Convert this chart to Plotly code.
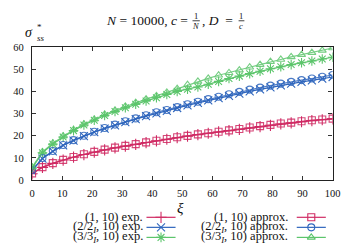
import plotly.graph_objects as go

# ---- data ----
xi = [0, 3.45, 6.90, 10.34, 13.79, 17.24, 20.69, 24.14, 27.59, 31.03,
      34.48, 37.93, 41.38, 44.83, 48.28, 51.72, 55.17, 58.62, 62.07, 65.52,
      68.97, 72.41, 75.86, 79.31, 82.76, 86.21, 89.66, 93.10, 96.55, 100]

red_exp = [2.8, 5.7, 7.5, 9.0, 10.3, 11.5, 12.6, 13.6, 14.5, 15.3,
           16.1, 16.9, 17.7, 18.4, 19.1, 19.8, 20.5, 21.1, 21.7, 22.3,
           22.9, 23.5, 24.1, 24.7, 25.3, 25.8, 26.3, 26.8, 27.2, 27.6]
red_approx = [3.0, 5.8, 7.6, 9.1, 10.4, 11.6, 12.7, 13.7, 14.6, 15.4,
              16.2, 17.0, 17.7, 18.5, 19.3, 19.9, 20.6, 21.1, 21.8, 22.4,
              23.0, 23.7, 24.3, 24.9, 25.5, 25.9, 26.5, 27.0, 27.3, 27.7]
blue_exp = [4.2, 9.7, 12.9, 15.6, 17.8, 19.8, 21.6, 23.2, 24.7, 26.1,
            27.5, 28.8, 30.1, 31.2, 32.5, 33.7, 34.8, 35.9, 37.0, 38.0,
            39.0, 40.0, 40.9, 41.8, 42.7, 43.5, 44.3, 45.0, 45.8, 46.5]
blue_approx = [4.5, 9.9, 13.1, 15.8, 18.0, 20.0, 21.8, 23.5, 25.0, 26.5,
               27.8, 29.2, 30.6, 31.6, 32.9, 34.2, 35.3, 36.5, 37.6, 38.7,
               39.8, 40.8, 41.7, 42.6, 43.5, 44.3, 45.1, 45.8, 46.6, 47.4]
green_exp = [5.4, 12.3, 16.2, 19.4, 22.3, 24.8, 27.0, 29.1, 30.9, 32.6,
             34.2, 35.7, 37.1, 38.6, 40.0, 41.0, 42.0, 43.2, 44.5, 45.8,
             46.9, 48.0, 49.1, 50.2, 51.1, 52.1, 52.9, 53.7, 54.6, 55.4]
green_approx = [5.8, 12.7, 16.6, 19.8, 22.7, 25.2, 27.4, 29.6, 31.4, 33.2,
                34.9, 36.5, 38.0, 39.6, 41.2, 43.0, 44.5, 45.9, 47.3, 48.4,
                49.6, 50.9, 52.1, 53.4, 54.4, 55.6, 56.6, 57.5, 58.5, 59.6]

x_ticks = [0, 10, 20, 30, 40, 50, 60, 70, 80, 90, 100]
y_ticks = [0, 10, 20, 30, 40, 50, 60]

labels_exp = ["(1, 10) exp.", "(2/2<sub><i>I</i></sub>, 10) exp.", "(3/3<sub><i>I</i></sub>, 10) exp."]
labels_approx = ["(1, 10) approx.", "(2/2<sub><i>I</i></sub>, 10) approx.", "(3/3<sub><i>I</i></sub>, 10) approx."]

# ---- styling ----
W, H = 360, 252
PL, PR, PT, PB = 30, 340, 44, 183   # plot area in pixels
RED, BLUE, GREEN = "#d02c64", "#2f66bd", "#5cc56c"
FONT = "Liberation Serif"
TXT = "#111"

colors = [RED, BLUE, GREEN]
exp_data = [red_exp, blue_exp, green_exp]
approx_data = [red_approx, blue_approx, green_approx]
exp_sym = ["cross-thin", "x-thin", "asterisk"]
app_sym = ["square-open", "circle-open", "triangle-up-open"]

fig = go.Figure()

for c, ys, sym in zip(colors, exp_data, exp_sym):
    fig.add_trace(go.Scatter(x=xi, y=ys, mode="lines+markers",
                             line=dict(color=c, width=1.2),
                             marker=dict(symbol=sym, size=8, color=c,
                                         line=dict(color=c, width=1.1)),
                             showlegend=False))
for c, ys, sym in zip(colors, approx_data, app_sym):
    fig.add_trace(go.Scatter(x=xi, y=ys, mode="lines+markers",
                             line=dict(color=c, width=1.2),
                             marker=dict(symbol=sym, size=7, color=c,
                                         line=dict(color=c, width=1.1)),
                             opacity=0.85,
                             showlegend=False))


def ann(x, y, text, size, xanchor="center"):
    fig.add_annotation(x=x, y=y, xref="x2", yref="y2", text=text, showarrow=False,
                       xanchor=xanchor, yanchor="middle",
                       font=dict(family=FONT, size=size, color=TXT))


# ---- manual legend on a pixel overlay axis ----
rows_y = [222, 232.5, 243]
for i in range(3):
    y = rows_y[i]
    fig.add_shape(type="line", xref="x2", yref="y2", x0=148, x1=178, y0=y, y1=y,
                  line=dict(color=colors[i], width=1.2))
    fig.add_trace(go.Scatter(x=[163], y=[y], xaxis="x2", yaxis="y2", mode="markers",
                             marker=dict(symbol=exp_sym[i], size=8, color=colors[i],
                                         line=dict(color=colors[i], width=1.1)),
                             cliponaxis=False, showlegend=False, hoverinfo="skip"))
    ann(146, y, labels_exp[i], 12.5, "right")
    fig.add_shape(type="line", xref="x2", yref="y2", x0=303, x1=333, y0=y, y1=y,
                  line=dict(color=colors[i], width=1.2))
    fig.add_trace(go.Scatter(x=[318], y=[y], xaxis="x2", yaxis="y2", mode="markers",
                             marker=dict(symbol=app_sym[i], size=7, color=colors[i],
                                         line=dict(color=colors[i], width=1.1)),
                             cliponaxis=False, showlegend=False, hoverinfo="skip"))
    ann(296, y, labels_approx[i], 12.5, "right")

# ---- title with stacked fractions ----
ann(193, 16.5, "<i>N</i> = 10000, <i>c</i> =", 13.5, "right")
ann(199, 11.5, "1", 8.5)
fig.add_shape(type="line", xref="x2", yref="y2", x0=195.5, x1=203, y0=16.5, y1=16.5,
              line=dict(color=TXT, width=0.8))
ann(199, 22, "<i>N</i>", 8.5)
ann(203.5, 16.5, ",&#160;<i>D</i>&#160;&#160;=", 13.5, "left")
ann(246, 11.5, "1", 8.5)
fig.add_shape(type="line", xref="x2", yref="y2", x0=243, x1=249, y0=16.5, y1=16.5,
              line=dict(color=TXT, width=0.8))
ann(246, 21.5, "<i>c</i>", 8.5)

# ---- axis labels ----
ann(27, 29, "<i>σ</i>", 14)
ann(33.5, 22.5, "*", 9, "left")
ann(32.5, 35, "<i>ss</i>", 9, "left")
ann(183, 212, "<i>ξ</i>", 15)

axis_common = dict(showgrid=False, zeroline=False, showline=True, linecolor="#222",
                   linewidth=1.3, mirror="allticks", ticks="inside", ticklen=4,
                   tickcolor="#333", tickwidth=1,
                   tickfont=dict(family=FONT, size=10.5, color=TXT))

fig.update_layout(
    width=W, height=H,
    margin=dict(l=0, r=0, t=0, b=0),
    paper_bgcolor="white", plot_bgcolor="rgba(0,0,0,0)",
    showlegend=False,
    xaxis=dict(domain=[PL / W, PR / W], range=[0, 100], tickvals=x_ticks,
               ticklabelstandoff=3, **axis_common),
    yaxis=dict(domain=[1 - PB / H, 1 - PT / H], range=[0, 60], tickvals=y_ticks,
               ticklabelstandoff=5, **axis_common),
    xaxis2=dict(domain=[0, 1], range=[0, W], visible=False, anchor="y2"),
    yaxis2=dict(domain=[0, 1], range=[H, 0], visible=False, anchor="x2"),
)

fig.write_html("out.html")
